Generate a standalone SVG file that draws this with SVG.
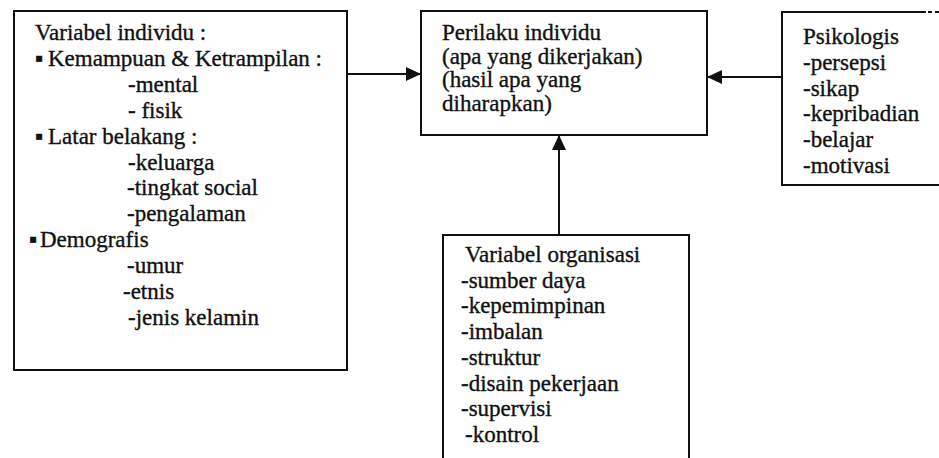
<svg xmlns="http://www.w3.org/2000/svg" width="939" height="458" viewBox="0 0 939 458">
  <style>
    .box { fill: none; stroke: #111; stroke-width: 2; }
    .t { font-family: "Liberation Serif", "Times New Roman", serif; font-size: 23px; fill: #111; stroke: #111; stroke-width: 0.35; }
    .conn { stroke: #111; stroke-width: 2; fill: none; marker-end: url(#ah); }
  </style>
  <defs>
    <marker id="ah" viewBox="0 0 15 14" refX="15" refY="7" markerWidth="15" markerHeight="14" markerUnits="userSpaceOnUse" orient="auto">
      <path d="M0,0 L15,7 L0,14 z" fill="#111"/>
    </marker>
  </defs>
  <rect width="939" height="458" fill="#fff"/>

  <g id="variabel-individu">
    <rect class="box" x="14" y="11" width="333" height="359"/>
    <text class="t" x="35" y="40">Variabel individu :</text>
    <text class="t" x="35" y="66">▪</text>
    <text class="t" x="48" y="66">Kemampuan &amp; Ketrampilan :</text>
    <text class="t" x="128" y="92">-mental</text>
    <text class="t" x="128" y="118">- fisik</text>
    <text class="t" x="35" y="144">▪</text>
    <text class="t" x="48" y="144">Latar belakang :</text>
    <text class="t" x="128" y="170">-keluarga</text>
    <text class="t" x="127" y="195">-tingkat social</text>
    <text class="t" x="127" y="221">-pengalaman</text>
    <text class="t" x="29" y="247">▪</text>
    <text class="t" x="40" y="247">Demografis</text>
    <text class="t" x="127" y="273">-umur</text>
    <text class="t" x="123" y="299">-etnis</text>
    <text class="t" x="128" y="325">-jenis kelamin</text>
  </g>

  <g id="perilaku-individu">
    <rect class="box" x="421" y="11" width="286" height="124"/>
    <text class="t" x="442" y="40">Perilaku individu</text>
    <text class="t" x="442" y="63.5">(apa yang dikerjakan)</text>
    <text class="t" x="442" y="87">(hasil apa yang</text>
    <text class="t" x="442" y="110.5">diharapkan)</text>
  </g>

  <g id="psikologis">
    <path class="box" d="M926,12 H782 V185 H939"/>
    <path class="box" d="M928,12 H939" stroke-dasharray="4 3"/>
    <text class="t" x="803" y="44">Psikologis</text>
    <text class="t" x="803" y="70">-persepsi</text>
    <text class="t" x="803" y="96">-sikap</text>
    <text class="t" x="803" y="121">-kepribadian</text>
    <text class="t" x="803" y="147">-belajar</text>
    <text class="t" x="803" y="173">-motivasi</text>
  </g>

  <g id="variabel-organisasi">
    <path class="box" d="M443,460 V235 H689 V460"/>
    <text class="t" x="465" y="262">Variabel organisasi</text>
    <text class="t" x="461" y="288">-sumber daya</text>
    <text class="t" x="461" y="313">-kepemimpinan</text>
    <text class="t" x="461" y="339">-imbalan</text>
    <text class="t" x="461" y="365">-struktur</text>
    <text class="t" x="461" y="391">-disain pekerjaan</text>
    <text class="t" x="461" y="416">-supervisi</text>
    <text class="t" x="465" y="442">-kontrol</text>
  </g>

  <g id="connectors">
    <line class="conn" x1="347" y1="74" x2="421" y2="74"/>
    <line class="conn" x1="782" y1="77" x2="707" y2="77"/>
    <line class="conn" x1="559" y1="235" x2="559" y2="135"/>
  </g>
</svg>
